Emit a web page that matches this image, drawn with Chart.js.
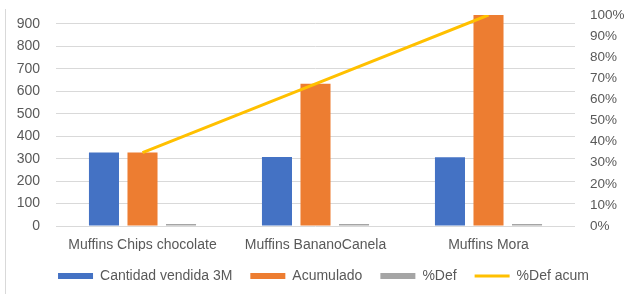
<!DOCTYPE html>
<html>
<head>
<meta charset="utf-8">
<script src="https://cdn.jsdelivr.net/npm/chart.js@4.4.0/dist/chart.umd.min.js"></script>
<style>
  html, body { margin: 0; padding: 0; background: #fff; }
  #wrap { width: 631px; height: 294px; position: relative; }
</style>
</head>
<body>
<div id="wrap"><canvas id="paretoChart"></canvas></div>
<script>
// Data
const categories = ['Muffins Chips chocolate', 'Muffins BananoCanela', 'Muffins Mora'];
const cantidadVendida = [327, 307, 306];
const acumulado = [327, 634, 940];
const pctDef = [0.348, 0.326, 0.326];
const pctDefAcum = [0.348, 0.674, 1.0];
const leftTicks = [0, 100, 200, 300, 400, 500, 600, 700, 800, 900];
const leftMax = 940;

const textColor = '#595959';
const gridColor = '#d9d9d9';
const fontFamily = 'Liberation Sans';

// thin grey frame line on the left side
const frameLine = {
    id: 'frameLine',
    beforeDraw(chart) {
        const c = chart.ctx;
        c.save();
        c.strokeStyle = gridColor;
        c.lineWidth = 1;
        c.beginPath();
        c.moveTo(5.5, 9);
        c.lineTo(5.5, chart.height);
        c.stroke();
        c.restore();
    }
};

// legend sits slightly right of centre in the original
const shiftLegend = {
    id: 'shiftLegend',
    afterLayout(chart) {
        chart.legend.left += 8;
        chart.legend.right += 8;
    }
};

const ctx = document.getElementById('paretoChart').getContext('2d');
new Chart(ctx, {
    type: 'bar',
    data: {
        labels: categories,
        datasets: [
            {
                label: 'Cantidad vendida 3M',
                data: cantidadVendida,
                backgroundColor: '#4472C4',
                yAxisID: 'y',
                order: 1
            },
            {
                label: 'Acumulado',
                data: acumulado,
                backgroundColor: '#ED7D31',
                yAxisID: 'y',
                order: 1
            },
            {
                label: '%Def',
                data: pctDef,
                backgroundColor: '#A5A5A5',
                yAxisID: 'y',
                minBarLength: 2,
                order: 1
            },
            {
                type: 'line',
                label: '%Def acum',
                data: pctDefAcum,
                borderColor: '#FFC000',
                backgroundColor: '#FFC000',
                borderWidth: 3,
                pointRadius: 0,
                pointStyle: 'line',
                tension: 0,
                yAxisID: 'y1',
                order: 0
            }
        ]
    },
    options: {
        responsive: true,
        maintainAspectRatio: false,
        animation: false,
        datasets: {
            bar: { categoryPercentage: 0.668, barPercentage: 0.78, pointStyle: 'rect' }
        },
        layout: { padding: { top: 15, bottom: 1, left: 0, right: 0 } },
        scales: {
            x: {
                grid: { display: false, drawTicks: false },
                border: { display: false },
                ticks: { color: textColor, font: { family: fontFamily, size: 14 }, padding: 11, maxRotation: 0 },
                afterFit(scale) { scale.height = 25; }
            },
            y: {
                position: 'left',
                min: 0,
                max: leftMax,
                grid: { color: gridColor, drawTicks: true, tickLength: 16, tickColor: 'rgba(0,0,0,0)' },
                border: { display: false },
                ticks: { color: textColor, font: { family: fontFamily, size: 14 }, padding: 0 },
                afterBuildTicks(scale) {
                    scale.ticks = leftTicks.map(v => ({ value: v }));
                },
                afterFit(scale) { scale.width = 56; }
            },
            y1: {
                position: 'right',
                min: 0,
                max: 1,
                grid: { drawOnChartArea: false, drawTicks: true, tickLength: 15, tickColor: 'rgba(0,0,0,0)' },
                border: { display: false },
                ticks: {
                    stepSize: 0.1,
                    color: textColor,
                    font: { family: fontFamily, size: 13.5 },
                    padding: 0,
                    callback: v => Math.round(v * 100) + '%'
                },
                afterFit(scale) { scale.width = 56; }
            }
        },
        plugins: {
            legend: {
                position: 'bottom',
                labels: {
                    color: textColor,
                    font: { family: fontFamily, size: 14 },
                    usePointStyle: true,
                    pointStyleWidth: 35,
                    boxHeight: 6,
                    padding: 18,
                    sort: (a, b) => a.datasetIndex - b.datasetIndex
                }
            },
            tooltip: { enabled: false }
        }
    },
    plugins: [frameLine, shiftLegend]
});
</script>
</body>
</html>
